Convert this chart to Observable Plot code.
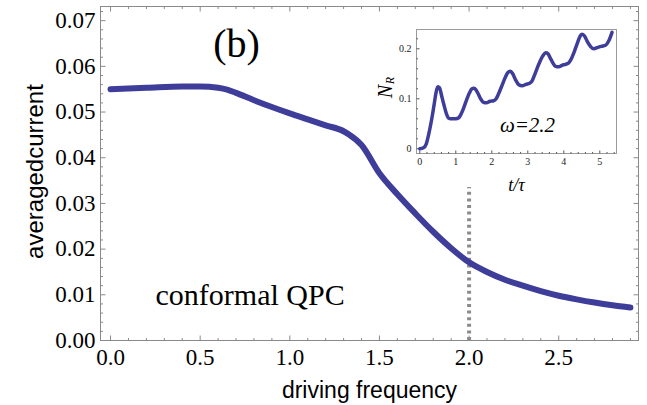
<!DOCTYPE html>
<html><head><meta charset="utf-8">
<script src="https://cdn.jsdelivr.net/npm/d3@7"></script>
<script src="https://cdn.jsdelivr.net/npm/@observablehq/plot@0.6"></script>
<style>
body{margin:0;background:#fff}
#wrap{position:relative;width:647px;height:405px;overflow:hidden}
#inset{position:absolute;left:360px;top:20px}
</style>
</head><body><div id="wrap"><div id="main"></div><div id="inset"></div></div>
<script>
// ---- main curve: averaged current vs driving frequency ----
const freq    = [0, 0.2, 0.4, 0.5, 0.6, 0.65, 0.7, 0.8, 0.9, 1.0, 1.1, 1.2, 1.3, 1.33, 1.4, 1.5, 1.6, 1.7, 1.8, 1.9, 2.0, 2.1, 2.2, 2.3, 2.4, 2.5, 2.6, 2.7, 2.8, 2.9];
const current = [0.0550, 0.0553, 0.0556, 0.0556, 0.0553, 0.0549, 0.0542, 0.0526, 0.0511, 0.0497, 0.0484, 0.0471, 0.0458, 0.0451, 0.0428, 0.0366, 0.0320, 0.0278, 0.0238, 0.0202, 0.0171, 0.0150, 0.0133, 0.0120, 0.0108, 0.0098, 0.0090, 0.0083, 0.0077, 0.0072];
const xTicks = [0, 0.5, 1, 1.5, 2, 2.5];
const xTickLabels = ["0.0", "0.5", "1.0", "1.5", "2.0", "2.5"];
const yTicks = [0, 0.01, 0.02, 0.03, 0.04, 0.05, 0.06, 0.07];
const yTickLabels = ["0.00", "0.01", "0.02", "0.03", "0.04", "0.05", "0.06", "0.07"];
const markerFreq = [2.0];
const markerTop = [0.0335];

// ---- inset: N_R vs t/tau ----
const tt = [0, 0.1, 0.18, 0.25, 0.32, 0.39, 0.45, 0.5, 0.55, 0.6, 0.67, 0.74, 0.81, 0.9, 1.0, 1.08, 1.15, 1.22, 1.3, 1.38, 1.45, 1.5, 1.56, 1.62, 1.69, 1.77, 1.85, 1.95, 2.05, 2.12, 2.2, 2.29, 2.37, 2.45, 2.52, 2.58, 2.66, 2.75, 2.84, 2.95, 3.05, 3.12, 3.2, 3.31, 3.42, 3.5, 3.56, 3.62, 3.68, 3.77, 3.86, 3.95, 4.05, 4.14, 4.21, 4.28, 4.38, 4.46, 4.51, 4.58, 4.65, 4.74, 4.83, 4.95, 5.05, 5.16, 5.25, 5.34];
const NR = [0.0, 0.002, 0.01, 0.03, 0.055, 0.085, 0.112, 0.124, 0.122, 0.108, 0.088, 0.070, 0.061, 0.060, 0.060, 0.062, 0.070, 0.082, 0.098, 0.112, 0.120, 0.121, 0.118, 0.110, 0.100, 0.093, 0.092, 0.095, 0.096, 0.100, 0.112, 0.128, 0.142, 0.153, 0.155, 0.150, 0.138, 0.128, 0.126, 0.129, 0.131, 0.136, 0.150, 0.170, 0.186, 0.192, 0.190, 0.182, 0.174, 0.165, 0.164, 0.167, 0.169, 0.172, 0.180, 0.192, 0.212, 0.226, 0.229, 0.225, 0.215, 0.205, 0.200, 0.203, 0.205, 0.207, 0.216, 0.233];
const insetXTicks = [0, 1, 2, 3, 4, 5];
const insetXTickLabels = ["0", "1", "2", "3", "4", "5"];
const insetYTicks = [0, 0.1, 0.2];
const insetYTickLabels = ["0", "0.1", "0.2"];

const lineColor = "#3e3d99";
const frameColor = "#8a8a8a";
const serif = "'Liberation Serif', 'DejaVu Serif', 'Times New Roman', serif";
const sans = "'Liberation Sans', Arial, sans-serif";

// tick glyph: a short segment drawn from the point in a given pixel direction
const tickSym = (dx, dy) => ({draw(ctx) { ctx.moveTo(0, 0); ctx.lineTo(dx, dy); }});

function minorOf(lo, hi, step, majors) {
  const out = [];
  const n = Math.round((hi - lo) / step);
  for (let i = 0; i <= n; i++) {
    const v = +(lo + i * step).toFixed(6);
    if (!majors.some(m => Math.abs(m - v) < 1e-9)) out.push(v);
  }
  return out;
}

const mainData = freq.map((f, i) => ({f, c: current[i]}));
const xDomain = [-0.056, 2.945];
const yDomain = [0, 0.0731];
const xMinor = minorOf(0, 2.9, 0.1, xTicks);
const yMinor = minorOf(0, 0.072, 0.002, yTicks);

const tickMarks = (xs, ys, xd, yd, major, minor, stroke, allSides) => {
  const m = [];
  const add = (arr, len, sides) => {
    const [xv, yv] = arr;
    if (xv) {
      m.push(Plot.dot(xv, {x: d => d, y: yd[0], symbol: tickSym(0, -len), stroke, fill: "none", strokeWidth: 1}));
      if (sides) m.push(Plot.dot(xv, {x: d => d, y: yd[1], symbol: tickSym(0, len), stroke, fill: "none", strokeWidth: 1}));
    }
    if (yv) {
      m.push(Plot.dot(yv, {x: xd[0], y: d => d, symbol: tickSym(len, 0), stroke, fill: "none", strokeWidth: 1}));
      if (sides) m.push(Plot.dot(yv, {x: xd[1], y: d => d, symbol: tickSym(-len, 0), stroke, fill: "none", strokeWidth: 1}));
    }
  };
  add([xs[0], ys[0]], major, allSides);
  add([xs[1], ys[1]], minor, allSides);
  return m;
};

const main = Plot.plot({
  width: 647, height: 405,
  marginLeft: 100, marginRight: 9, marginTop: 6, marginBottom: 65,
  x: {domain: xDomain, axis: null},
  y: {domain: yDomain, axis: null},
  style: {fontFamily: serif, fontSize: "23px", background: "none", overflow: "visible", color: "#000"},
  marks: [
    Plot.frame({stroke: frameColor}),
    ...tickMarks([xTicks, xMinor], [yTicks, yMinor], xDomain, yDomain, 5, 2.5, frameColor, true),
    Plot.text(xTicks, {x: d => d, y: yDomain[0], text: (d, i) => xTickLabels[i], lineAnchor: "top", dy: 8, fontSize: 23, fontFamily: serif, fill: "#000"}),
    Plot.text(yTicks, {x: xDomain[0], y: d => d, text: (d, i) => yTickLabels[i], textAnchor: "end", dx: -5, fontSize: 23, fontFamily: serif, fill: "#000"}),
    Plot.ruleX(markerFreq, {x: d => d, y1: 0, y2: markerTop[0], stroke: "#8c8c8c", strokeWidth: 4, strokeDasharray: "3,3.6"}),
    Plot.line(mainData, {x: "f", y: "c", stroke: lineColor, strokeWidth: 6, curve: "monotone-x"}),
    Plot.text(["(b)"], {frameAnchor: "top-left", dx: 136, dy: 50, textAnchor: "middle", lineAnchor: "bottom", fontSize: 40, fontFamily: serif, fill: "#000"}),
    Plot.text(["conformal QPC"], {frameAnchor: "bottom-left", dx: 55, dy: -36, textAnchor: "start", lineAnchor: "bottom", fontSize: 30, fontFamily: serif, fill: "#000"}),
    Plot.text(["driving frequency"], {frameAnchor: "bottom", dy: 57, lineAnchor: "bottom", fontSize: 23, fontFamily: sans, fill: "#000"}),
    Plot.text(["averagedcurrent"], {frameAnchor: "left", dx: -58, dy: -2, rotate: -90, textAnchor: "middle", lineAnchor: "bottom", fontSize: 24, fontFamily: sans, fill: "#000"})
  ]
});
document.getElementById("main").append(main);

// ---- inset ----
const insetData = tt.map((t, i) => ({t, n: NR[i]}));
const ixDomain = [-0.092, 5.464];
const iyDomain = [-0.0094, 0.2386];
const ixMinor = minorOf(0, 5.4, 0.2, insetXTicks);
const iyMinor = minorOf(0, 0.22, 0.02, insetYTicks);

const inset = Plot.plot({
  width: 270, height: 175,
  marginLeft: 56, marginRight: 14, marginTop: 9, marginBottom: 42,
  x: {domain: ixDomain, axis: null},
  y: {domain: iyDomain, axis: null},
  style: {fontFamily: serif, fontSize: "10px", background: "none", overflow: "visible", color: "#000"},
  marks: [
    Plot.frame({stroke: "#9a9a9a"}),
    ...tickMarks([insetXTicks, ixMinor], [insetYTicks, iyMinor], ixDomain, iyDomain, 3, 1.5, "#555", false),
    Plot.text(insetXTicks, {x: d => d, y: iyDomain[0], text: (d, i) => insetXTickLabels[i], lineAnchor: "top", dy: 4, fontSize: 10, fontFamily: serif, fill: "#222"}),
    Plot.text(insetYTicks, {x: ixDomain[0], y: d => d, text: (d, i) => insetYTickLabels[i], textAnchor: "end", dx: -5, fontSize: 10, fontFamily: serif, fill: "#222"}),
    Plot.line(insetData, {x: "t", y: "n", stroke: lineColor, strokeWidth: 3.5, curve: "monotone-x"}),
    Plot.text(["N"], {frameAnchor: "left", dx: -31, dy: 0, rotate: -90, textAnchor: "middle", lineAnchor: "middle", fontSize: 20, fontStyle: "italic", fontFamily: serif, fill: "#000"}),
    Plot.text(["R"], {frameAnchor: "left", dx: -26, dy: -11, rotate: -90, textAnchor: "middle", lineAnchor: "middle", fontSize: 12, fontStyle: "italic", fontFamily: serif, fill: "#000"}),
    Plot.text(["t/τ"], {frameAnchor: "bottom", dy: 37, lineAnchor: "bottom", fontSize: 18, fontStyle: "italic", fontFamily: serif, fill: "#000"}),
    Plot.text(["ω=2.2"], {frameAnchor: "middle", dx: 11, dy: 40, lineAnchor: "bottom", fontSize: 21, fontStyle: "italic", fontFamily: serif, fill: "#000"})
  ]
});
document.getElementById("inset").append(inset);
</script>
</body></html>
